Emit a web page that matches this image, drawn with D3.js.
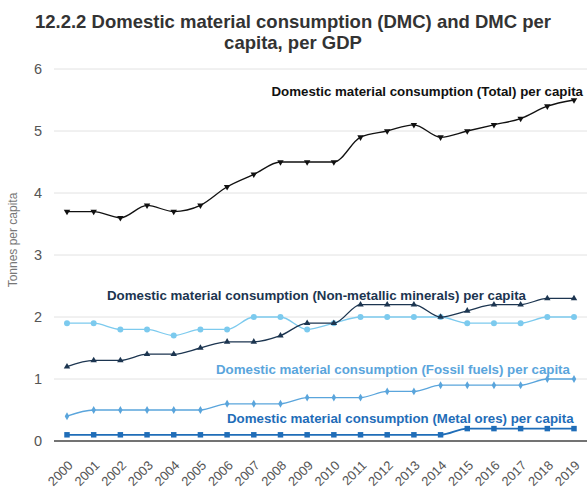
<!DOCTYPE html>
<html>
<head>
<meta charset="utf-8">
<script src="https://cdn.jsdelivr.net/npm/d3@7"></script>
<style>
body { margin: 0; background: #fff; }
text { font-family: "Liberation Sans", Arial, sans-serif; }
</style>
</head>
<body>
<svg id="chart"></svg>
<script>
var width = 587;
var height = 489;

var years = [2000, 2001, 2002, 2003, 2004, 2005, 2006, 2007, 2008, 2009,
             2010, 2011, 2012, 2013, 2014, 2015, 2016, 2017, 2018, 2019];
var total = [3.7, 3.7, 3.6, 3.8, 3.7, 3.8, 4.1, 4.3, 4.5, 4.5,
             4.5, 4.9, 5.0, 5.1, 4.9, 5.0, 5.1, 5.2, 5.4, 5.5];
var nonMetallic = [1.2, 1.3, 1.3, 1.4, 1.4, 1.5, 1.6, 1.6, 1.7, 1.9,
                   1.9, 2.2, 2.2, 2.2, 2.0, 2.1, 2.2, 2.2, 2.3, 2.3];
var biomass = [1.9, 1.9, 1.8, 1.8, 1.7, 1.8, 1.8, 2.0, 2.0, 1.8,
               1.9, 2.0, 2.0, 2.0, 2.0, 1.9, 1.9, 1.9, 2.0, 2.0];
var fossil = [0.4, 0.5, 0.5, 0.5, 0.5, 0.5, 0.6, 0.6, 0.6, 0.7,
              0.7, 0.7, 0.8, 0.8, 0.9, 0.9, 0.9, 0.9, 1.0, 1.0];
var metal = [0.1, 0.1, 0.1, 0.1, 0.1, 0.1, 0.1, 0.1, 0.1, 0.1,
             0.1, 0.1, 0.1, 0.1, 0.1, 0.2, 0.2, 0.2, 0.2, 0.2];
var yTicks = [0, 1, 2, 3, 4, 5, 6];

var series = [
    {name: "biomass", values: biomass, color: "#7ccaee", symbol: d3.symbolCircle, size: 28, width: 1.3},
    {name: "fossil", values: fossil, color: "#5aa5dc", symbol: d3.symbolDiamond, size: 18, width: 1.3},
    {name: "metal", values: metal, color: "#1f6db8", symbol: d3.symbolSquare, size: 30, width: 1.8},
    {name: "nonmet", values: nonMetallic, color: "#1c3550", symbol: d3.symbolTriangle, size: 18, width: 1.3},
    {name: "total", values: total, color: "#111111", symbol: d3.symbolTriangle, size: 18, width: 1.3, flip: true}
];

var labels = [
    {text: "Domestic material consumption (Total) per capita", x: 583, y: 5.56, anchor: "end", color: "#111111"},
    {text: "Domestic material consumption (Non-metallic minerals) per capita", x: 107, y: 2.28, anchor: "start", color: "#1c3550"},
    {text: "Domestic material consumption (Fossil fuels) per capita", x: 216, y: 1.08, anchor: "start", color: "#5aa5dc"},
    {text: "Domestic material consumption (Metal ores) per capita", x: 227, y: 0.29, anchor: "start", color: "#1f6db8"}
];

var svg = d3.select("#chart").attr("width", width).attr("height", height);

var x = d3.scalePoint().domain(years).range([67, 574]);
var y = d3.scaleLinear().domain([0, 6]).range([441, 69]);

// title
svg.append("text").attr("x", 293).attr("y", 28).attr("text-anchor", "middle")
    .attr("font-size", 18.5).attr("font-weight", "bold").attr("fill", "#333")
    .text("12.2.2 Domestic material consumption (DMC) and DMC per");
svg.append("text").attr("x", 293).attr("y", 49).attr("text-anchor", "middle")
    .attr("font-size", 18.5).attr("font-weight", "bold").attr("fill", "#333")
    .text("capita, per GDP");

// gridlines
svg.append("g").selectAll("line").data(yTicks.filter(function(d) { return d > 0; }))
    .enter().append("line")
    .attr("x1", 54).attr("x2", 587)
    .attr("y1", function(d) { return y(d); }).attr("y2", function(d) { return y(d); })
    .attr("stroke", "#e2e2e2").attr("stroke-width", 1);

var yAxis = svg.append("g").attr("transform", "translate(42,0)")
    .call(d3.axisLeft(y).tickValues(yTicks).tickSize(0).tickFormat(d3.format("d")));
yAxis.select(".domain").remove();
yAxis.selectAll("text").attr("font-size", 14.5).attr("fill", "#555").attr("x", 0);

svg.append("line").attr("x1", 54).attr("x2", 587).attr("y1", y(0)).attr("y2", y(0))
    .attr("stroke", "#444").attr("stroke-width", 1.3);

var xAxis = svg.append("g").attr("transform", "translate(0," + (y(0) + 10) + ")")
    .call(d3.axisBottom(x).tickSize(0).tickFormat(d3.format("d")));
xAxis.select(".domain").remove();
xAxis.selectAll("text")
    .attr("font-size", 13).attr("fill", "#555")
    .attr("text-anchor", "end")
    .attr("x", 0).attr("y", 0)
    .attr("dy", "0.35em")
    .attr("transform", "translate(3,12) rotate(-45)");

svg.append("text")
    .attr("transform", "translate(17,240) rotate(-90)")
    .attr("text-anchor", "middle").attr("font-size", 12).attr("fill", "#777")
    .text("Tonnes per capita");

var line = d3.line()
    .x(function(d, i) { return x(years[i]); })
    .y(function(d) { return y(d); })
    .curve(d3.curveMonotoneX);

series.forEach(function(s) {
    var g = svg.append("g").attr("class", s.name);
    g.append("path").attr("d", line(s.values))
        .attr("fill", "none").attr("stroke", s.color).attr("stroke-width", s.width);
    g.selectAll("path.pt").data(s.values).enter().append("path")
        .attr("class", "pt")
        .attr("d", d3.symbol().type(s.symbol).size(s.size))
        .attr("transform", function(d, i) {
            return "translate(" + x(years[i]) + "," + y(d) + ")" + (s.flip ? " rotate(180)" : "");
        })
        .attr("fill", s.color);
});

svg.append("g").selectAll("text").data(labels).enter().append("text")
    .attr("x", function(d) { return d.x; })
    .attr("y", function(d) { return y(d.y); })
    .attr("text-anchor", function(d) { return d.anchor; })
    .attr("font-size", 13.3).attr("font-weight", "bold")
    .attr("fill", function(d) { return d.color; })
    .text(function(d) { return d.text; });
</script>
</body>
</html>
